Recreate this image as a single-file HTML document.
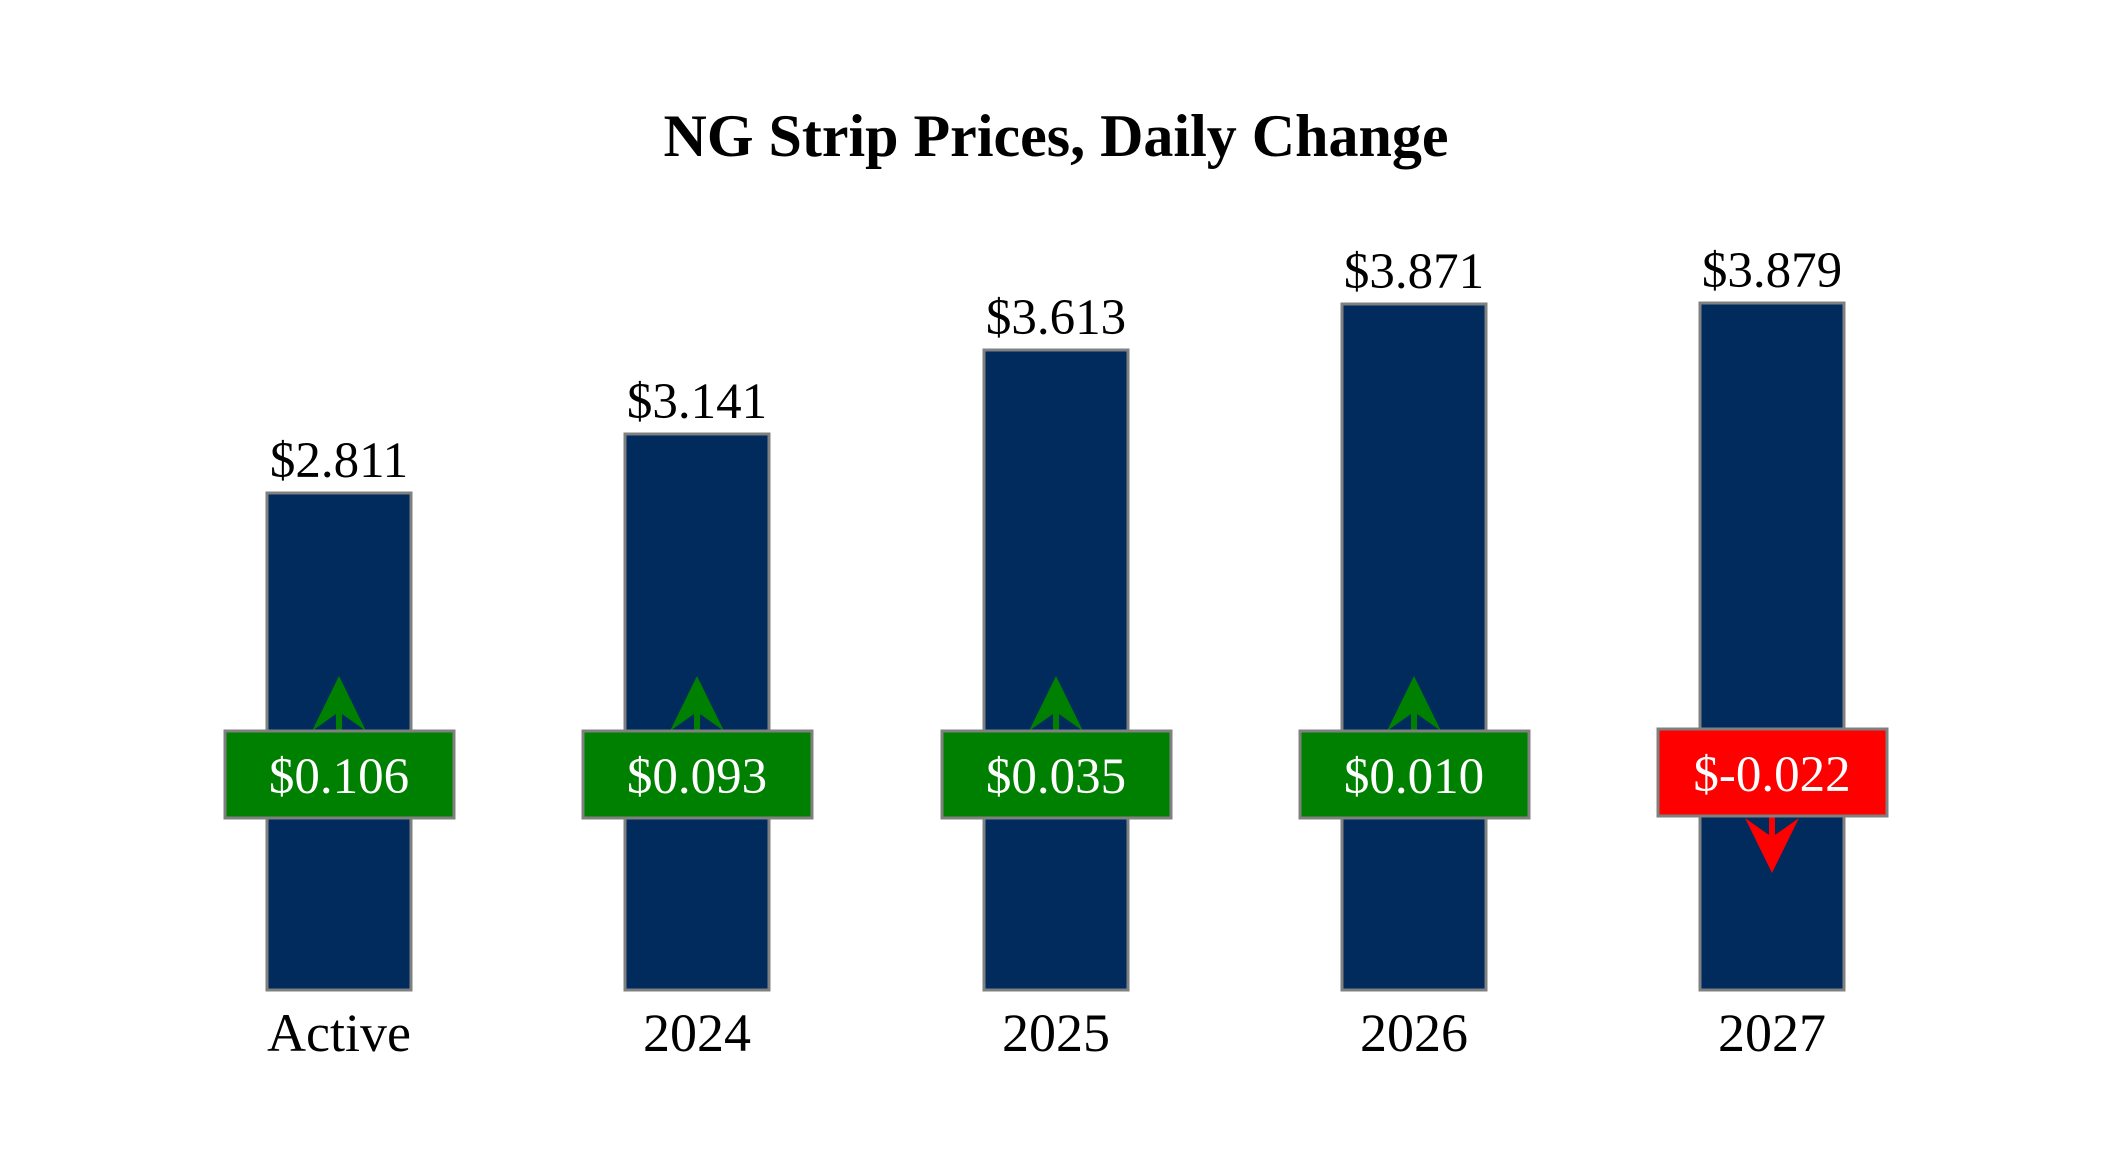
<!DOCTYPE html>
<html><head><meta charset="utf-8"><style>
html,body{margin:0;padding:0;background:#fff;}
svg{display:block;font-family:"Liberation Serif",serif;}
</style></head><body>
<svg width="2112" height="1152" viewBox="0 0 2112 1152" xmlns="http://www.w3.org/2000/svg">
<rect width="2112" height="1152" fill="#fff"/>
<text x="1056" y="156" text-anchor="middle" font-size="60" font-weight="bold" fill="#000">NG Strip Prices, Daily Change</text>
<g stroke="#808080" stroke-width="3" fill="#002b5c">
<rect x="267" y="493" width="144" height="497"/>
<rect x="625" y="434" width="144" height="556"/>
<rect x="984" y="350" width="144" height="640"/>
<rect x="1342" y="304" width="144" height="686"/>
<rect x="1700" y="303" width="144" height="687"/>
</g>
<g font-size="51" text-anchor="middle" fill="#000">
<text x="339" y="477">$2.811</text>
<text x="697" y="418">$3.141</text>
<text x="1056" y="334">$3.613</text>
<text x="1414" y="288">$3.871</text>
<text x="1772" y="287">$3.879</text>
</g>
<g fill="#008000">
<path d="M339 676 L366 731 L342 714 L342 731 L336 731 L336 714 L312 731 Z"/>
<path d="M697 676 L724 731 L700 714 L700 731 L694 731 L694 714 L670 731 Z"/>
<path d="M1056 676 L1083 731 L1059 714 L1059 731 L1053 731 L1053 714 L1029 731 Z"/>
<path d="M1414 676 L1441 731 L1417 714 L1417 731 L1411 731 L1411 714 L1387 731 Z"/>
</g>
<path fill="#ff0000" d="M1772 873 L1745 818 L1769 835 L1769 815 L1775 815 L1775 835 L1799 818 Z"/>
<g stroke="#808080" stroke-width="3">
<rect x="225" y="731" width="229" height="87" fill="#008000"/>
<rect x="583" y="731" width="229" height="87" fill="#008000"/>
<rect x="942" y="731" width="229" height="87" fill="#008000"/>
<rect x="1300" y="731" width="229" height="87" fill="#008000"/>
<rect x="1658" y="729" width="229" height="87" fill="#ff0000"/>
</g>
<g font-size="51" text-anchor="middle" fill="#fff">
<text x="339" y="793">$0.106</text>
<text x="697" y="793">$0.093</text>
<text x="1056" y="793">$0.035</text>
<text x="1414" y="793">$0.010</text>
<text x="1772" y="791">$-0.022</text>
</g>
<g font-size="54" text-anchor="middle" fill="#000">
<text x="339" y="1051">Active</text>
<text x="697" y="1051">2024</text>
<text x="1056" y="1051">2025</text>
<text x="1414" y="1051">2026</text>
<text x="1772" y="1051">2027</text>
</g>
</svg>
</body></html>
